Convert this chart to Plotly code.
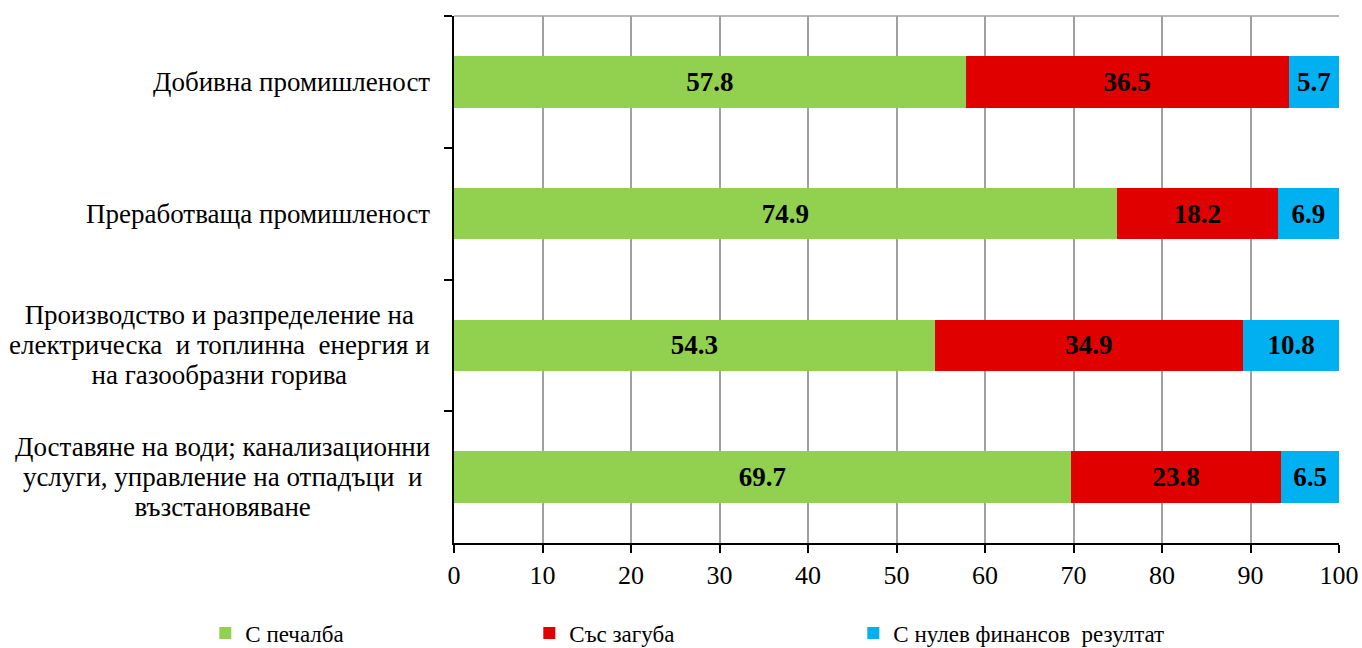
import plotly.graph_objects as go

categories = [
    "Добивна промишленост",
    "Преработваща промишленост",
    "Производство и разпределение на<br>електрическа  и топлинна  енергия и<br>на газообразни горива",
    "Доставяне на води; канализационни<br>услуги, управление на отпадъци  и<br>възстановяване",
]
profit = [57.8, 74.9, 54.3, 69.7]
loss = [36.5, 18.2, 34.9, 23.8]
zero = [5.7, 6.9, 10.8, 6.5]
series_names = ["С печалба", "Със загуба", "С нулев финансов  резултат"]
colors = ["#92D050", "#E00000", "#00B0F0"]
x_ticks = [0, 10, 20, 30, 40, 50, 60, 70, 80, 90, 100]

FONT = "Liberation Serif"

fig = go.Figure()
for name, vals, col in zip(series_names, [profit, loss, zero], colors):
    fig.add_trace(go.Bar(
        y=categories, x=vals, name=name, orientation="h",
        marker=dict(color=col, line=dict(width=0)),
        text=[f"{v:.1f}" for v in vals], textposition="inside",
        insidetextanchor="middle",
        textfont=dict(family=FONT, size=27, color="black", weight="bold"),
        width=0.39,
    ))

for c in categories:
    label = "<br>".join(f'<span style="font-size:27px">{ln}</span>' for ln in c.split("<br>"))
    fig.add_annotation(
        x=0, y=c, xref="paper", yref="y", text=label, showarrow=False,
        xanchor="right", align="center", xshift=-22,
        font=dict(family=FONT, size=23, color="black"),
    )

fig.add_shape(type="line", xref="paper", yref="paper", x0=0, x1=1, y0=1, y1=1,
              line=dict(color="#A0A0A0", width=1.5))

fig.update_layout(
    barmode="stack",
    width=1362, height=648,
    margin=dict(l=454, r=23, t=16, b=105, autoexpand=False),
    paper_bgcolor="white", plot_bgcolor="white",
    font=dict(family=FONT, size=22, color="black"),
    uniformtext=dict(mode="show", minsize=10),
    legend=dict(orientation="h", x=-0.281, xanchor="left", xref="paper",
                y=-0.171, yanchor="middle", yref="paper",
                entrywidth=279, font=dict(family=FONT, size=23),
                itemwidth=30, traceorder="normal"),
    bargap=0.6,
)
fig.update_xaxes(range=[0, 100], tickvals=x_ticks, showgrid=True,
                 gridcolor="#A0A0A0", gridwidth=1.5, automargin=False,
                 showline=True, linecolor="black", linewidth=2,
                 ticks="outside", ticklen=8, tickwidth=2, tickcolor="black",
                 tickfont=dict(family=FONT, size=26), zeroline=False)
fig.update_yaxes(autorange="reversed", showticklabels=False, showgrid=False,
                 showline=True, linecolor="black", linewidth=2, automargin=False,
                 ticks="outside", ticklen=8, tickwidth=2, tickcolor="black",
                 tickson="boundaries")

fig.write_html("out.html", config={"displayModeBar": False},
               post_script="document.body.style.margin='0';document.body.style.overflow='hidden';")
